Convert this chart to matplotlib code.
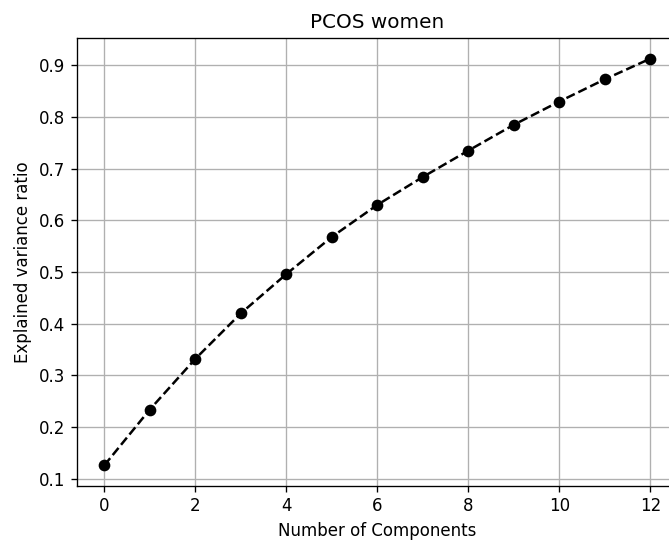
import numpy as np
import matplotlib
matplotlib.use("Agg")
import matplotlib.pyplot as plt

# cumulative explained variance ratio
components = np.arange(13)
explained_var = [0.126, 0.234, 0.332, 0.420, 0.496, 0.568, 0.630,
                 0.684, 0.735, 0.785, 0.830, 0.873, 0.913]

DPI = 120
fig = plt.figure(figsize=(669 / DPI, 540 / DPI), dpi=DPI)
ax = fig.add_axes([0.1151, 0.1006, 0.8978, 0.8285])
ax.plot(components, explained_var, "k--", marker="o")
ax.set_xticks(np.arange(0, 13, 2))
ax.set_xlabel("Number of Components")
ax.set_ylabel("Explained variance ratio")
ax.set_title("PCOS women")
ax.grid(True)

fig.savefig("out.png", dpi=DPI)
